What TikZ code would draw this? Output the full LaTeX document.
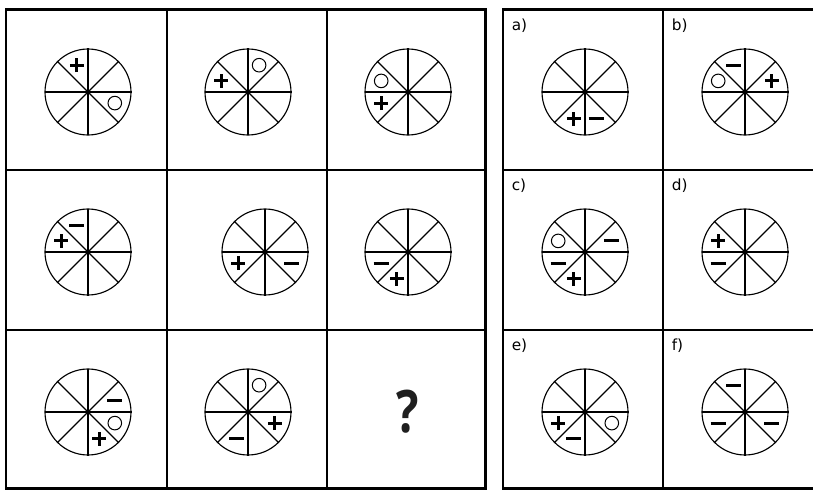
\documentclass[tikz,border=0pt]{standalone}
\usepackage{fontspec}
\newfontfamily\lblfont{DejaVu Sans}
\newfontfamily\qfont{Open Sans}
\usepackage{tikz}
\usetikzlibrary{positioning}

\begin{document}
\begin{tikzpicture}[x=0.75pt, y=0.75pt,
  inner/.style={line width=1.5pt}, outer/.style={line width=1.9pt},
  spoke/.style={line width=0.85pt},
  lbl/.style={font=\lblfont\fontsize{11.5}{11.5}\selectfont, anchor=west, inner sep=0pt},
  plus/.pic={\draw[line width=2.3pt] (-7,0) -- (7,0) (0,-7) -- (0,7);},
  minus/.pic={\draw[line width=2.3pt] (-7.5,0) -- (7.5,0);},
  ring/.pic={\draw[line width=0.75pt] (0,0) circle (6.8);},
  wheel/.pic={\draw[spoke] (0,0) circle (43);
    \foreach \a in {0,45,90,135} \draw[spoke] (\a:43.5) -- (\a+180:43.5);}]
\useasboundingbox (0,0) rectangle (813,490);
\draw[inner] (167,1.5) -- (167,480.5) (327,1.5) -- (327,480.5)
  (6,320) -- (485.5,320) (6,160) -- (485.5,160);
\draw[outer] (6,1.5) rectangle (485.5,480.5);
\draw[inner] (663,1.5) -- (663,480.5) (503,320) -- (814,320) (503,160) -- (814,160);
\draw[outer] (503,1.5) rectangle (814,480.5);
\foreach \n/\x/\y/\m in {c1/88/398/{plus/112.5,ring/337.5}, c2/248/398/{ring/67.5,plus/157.5},
    c3/408/398/{ring/157.5,plus/202.5}, c4/88/238/{minus/112.5,plus/157.5},
    c5/265/238/{plus/202.5,minus/337.5}, c6/408/238/{minus/202.5,plus/247.5},
    c7/88/78/{minus/22.5,ring/337.5,plus/292.5}, c8/248/78/{ring/67.5,plus/337.5,minus/247.5},
    oa/585/398/{plus/247.5,minus/292.5}, ob/745/398/{minus/112.5,ring/157.5,plus/22.5},
    oc/585/238/{ring/157.5,minus/22.5,minus/202.5,plus/247.5}, od/745/238/{plus/157.5,minus/202.5},
    oe/585/78/{plus/202.5,minus/247.5,ring/337.5}, of/745/78/{minus/112.5,minus/202.5,minus/337.5}} {
  \begin{scope}[shift={(\x,\y)}]
    \pic (\n) {wheel};
    \foreach \s/\a in \m {\pic at (\a:29) {\s};}
  \end{scope}
}
\node[font=\qfont\bfseries\fontsize{44}{44}\selectfont, inner sep=0pt, xscale=0.8, text=black!88] (qm) at (408,78.5) {?};
\foreach \n/\x/\y/\t in {la/511.5/464.5/a), lb/671.5/464.5/b), lc/511.5/304.5/c),
    ld/671.5/304.5/d), le/511.5/144.5/e), lf/671.5/144.5/f)}
  \node[lbl] (\n) at (\x,\y) {\t};
\end{tikzpicture}
\end{document}
